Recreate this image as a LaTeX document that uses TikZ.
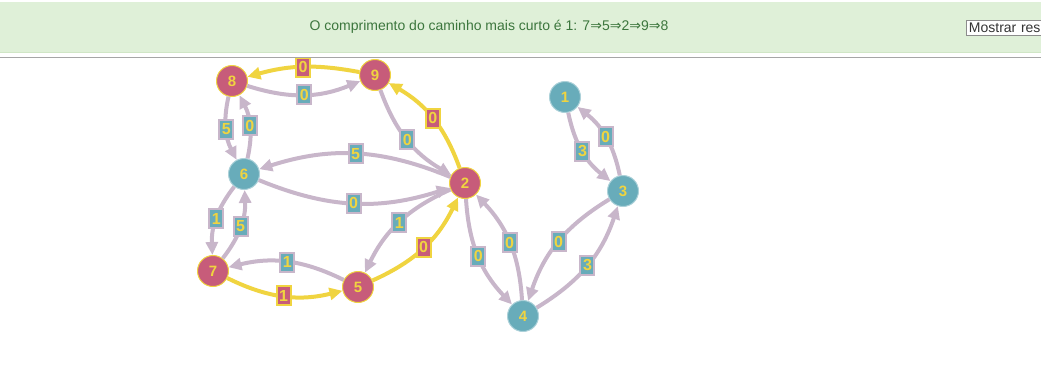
\documentclass[tikz,border=0pt]{standalone}
\usepackage{fontspec}
\setmainfont{Liberation Sans}
\newfontfamily\setasfont{DejaVu Sans}
\usetikzlibrary{arrows.meta, positioning}
\definecolor{Vermelho}{RGB}{199,92,122}
\definecolor{Turquesa}{RGB}{104,172,186}
\definecolor{Amarelo}{RGB}{240,212,64}
\definecolor{Lilas}{RGB}{200,182,202}
\definecolor{Verde}{RGB}{223,240,216}
\definecolor{VerdeBorda}{RGB}{208,230,198}
\definecolor{VerdeTexto}{RGB}{60,118,61}
\newcommand{\implica}{{\setasfont ⇒}}

\begin{document}
\begin{tikzpicture}[x=1pt, y=1pt,
  vtx/.style={circle, minimum size=31pt, inner sep=0pt, line width=1pt,
              text=Amarelo, font=\fontsize{15}{15}\selectfont\bfseries},
  nverm/.style={vtx, fill=Vermelho, draw=Amarelo},
  nturq/.style={vtx, fill=Turquesa, draw=Turquesa!55!white},
  aresta/.style={Lilas, line width=4pt, -{Triangle[length=13pt, width=12pt]},
                 bend right=20},
  caminho/.style={aresta, Amarelo},
  peso/.style={rectangle, pos=0.5, fill=Turquesa, draw=Lilas, line width=2pt,
               inner sep=0.5pt, minimum width=14pt, minimum height=19pt,
               text=Amarelo, font=\fontsize{16}{16}\selectfont\bfseries},
  pesoc/.style={peso, fill=Vermelho, draw=Amarelo}
]
\useasboundingbox (0,0) rectangle (1041,-378);

%% Vertices
\node[nverm] (n8) at (232,-81)  {8};
\node[nverm] (n9) at (375,-75)  {9};
\node[nturq] (n6) at (244,-174) {6};
\node[nverm] (n2) at (465,-183) {2};
\node[nverm] (n7) at (213,-271) {7};
\node[nverm] (n5) at (358,-287) {5};
\node[nturq] (n1) at (565,-97)  {1};
\node[nturq] (n3) at (623,-191) {3};
\node[nturq] (n4) at (523,-316) {4};

%% Arestas
\draw[aresta] (n8) to node[peso]{0} (n9);
\draw[aresta] (n8) to node[peso]{5} (n6);
\draw[aresta] (n6) to node[peso]{0} (n8);
\draw[aresta] (n9) to node[peso]{0} (n2);
\draw[aresta] (n2) to node[peso]{5} (n6);
\draw[aresta] (n6) to node[peso]{0} (n2);
\draw[aresta] (n6) to node[peso]{1} (n7);
\draw[aresta] (n7) to node[peso]{5} (n6);
\draw[aresta] (n5) to node[peso]{1} (n7);
\draw[aresta] (n2) to node[peso]{1} (n5);
\draw[aresta] (n2) to node[peso]{0} (n4);
\draw[aresta] (n4) to node[peso]{0} (n2);
\draw[aresta] (n1) to node[peso]{3} (n3);
\draw[aresta] (n3) to node[peso]{0} (n1);
\draw[aresta] (n3) to node[peso]{0} (n4);
\draw[aresta] (n4) to node[peso]{3} (n3);

%% Caminho mais curto 7 -> 8
\draw[caminho] (n7) to node[pesoc]{1} (n5);
\draw[caminho] (n5) to node[pesoc]{0} (n2);
\draw[caminho] (n2) to node[pesoc]{0} (n9);
\draw[caminho, bend right=13] (n9) to node[pesoc]{0} (n8);

%% Cabecalho
\fill[white] (0,0) rectangle (1041,-57);
\fill[Verde] (0,-2) rectangle (1041,-52);
\draw[VerdeBorda, line width=1pt] (0,-52) -- (1041,-52);
\draw[gray!70, line width=1pt] (0,-57.5) -- (1041,-57.5);
\node[text=VerdeTexto, font=\fontsize{14}{16}\selectfont] (msg) at (489,-27)
  {O comprimento do caminho mais curto é 1: 7\implica5\implica2\implica9\implica8};
\node[draw=gray!90, fill=white, line width=0.8pt, anchor=west, inner sep=2.5pt,
      text width=90pt, align=left, font=\fontsize{14}{16}\selectfont,
      text=black!80] (botao) at (966,-28)
  {Mostrar res};
\end{tikzpicture}
\end{document}
